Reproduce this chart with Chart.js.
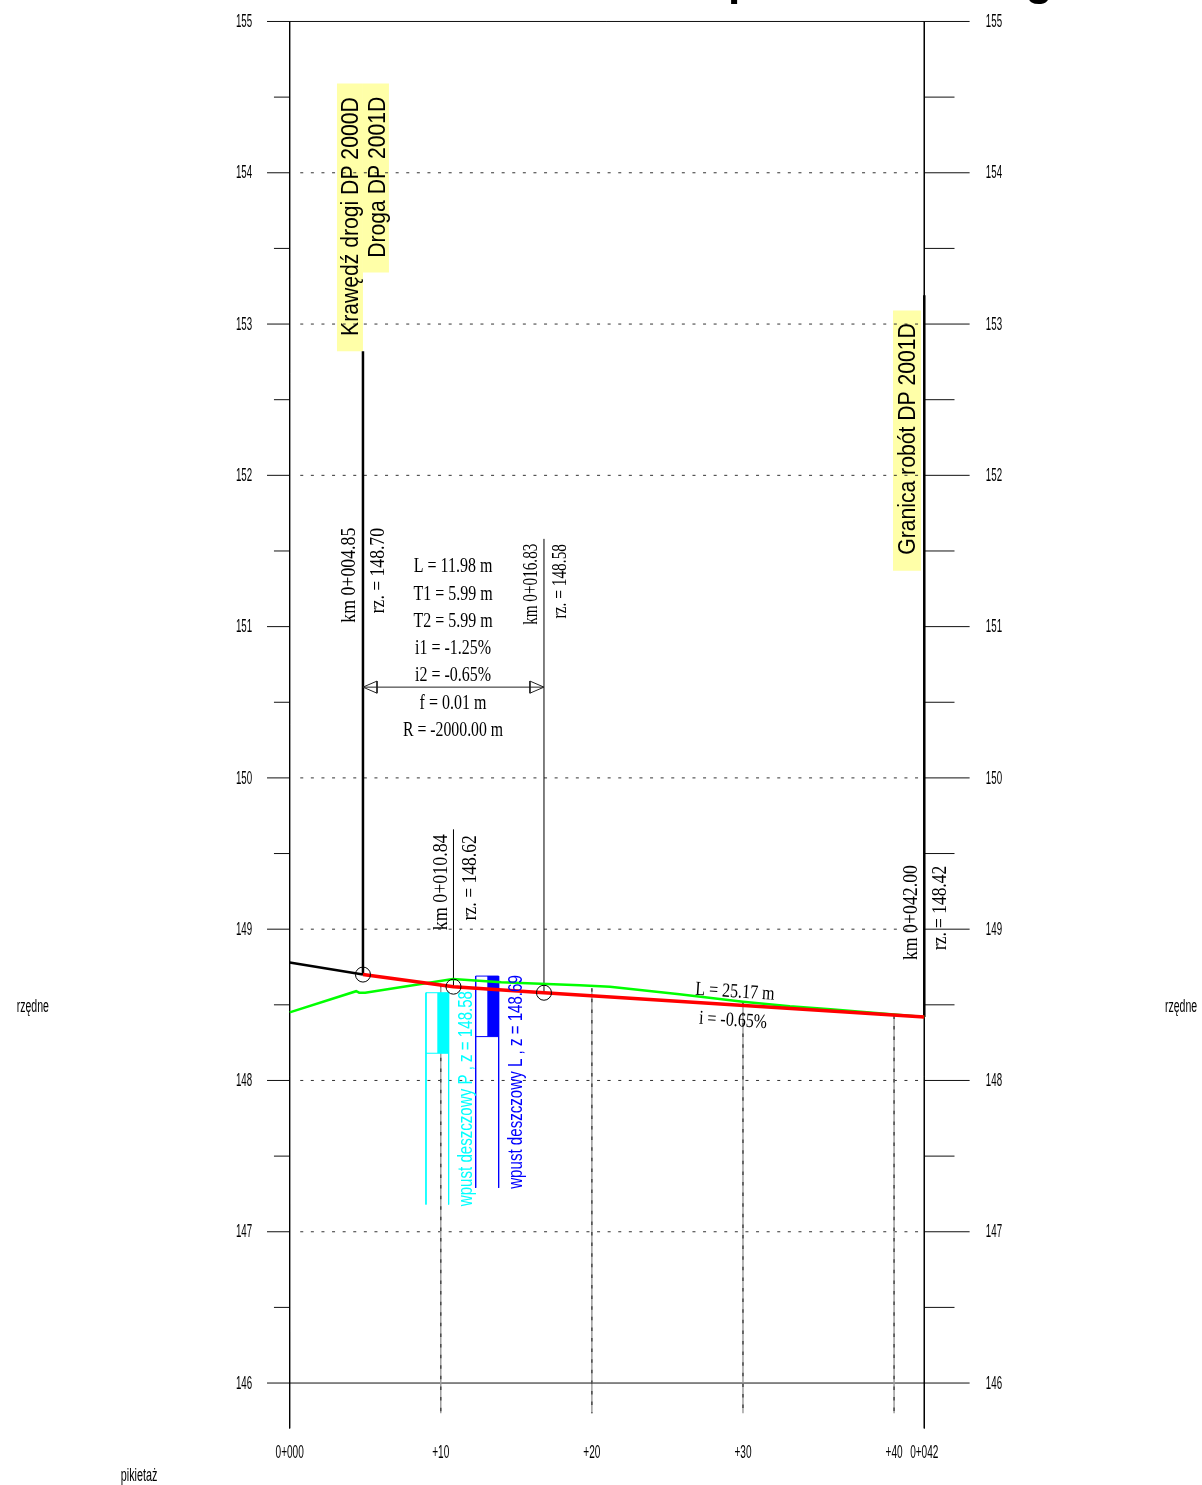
<!DOCTYPE html>
<html>
<head>
<meta charset="utf-8">
<title>Profil</title>
<script src="https://cdn.jsdelivr.net/npm/chart.js@4"></script>
<style>
  html, body { margin: 0; padding: 0; background: #fff; overflow: hidden; }
  canvas { display: block; }
</style>
</head>
<body>
<canvas id="profile" width="1202" height="1485"></canvas>
<script>
// stations in m, elevations in m
const majorLevels = [155, 154, 153, 152, 151, 150, 149, 148, 147, 146]
const minorLevels = [154.5, 153.5, 152.5, 151.5, 150.5, 149.5, 148.5, 147.5, 146.5]
const dottedLevels = [154, 153, 152, 150, 149, 148, 147]
const solidLevels = [155, 146]
const stationTicks = [0, 10, 20, 30, 40, 42]
const stationLabels = ["0+000", "+10", "+20", "+30", "+40", "0+042"]
const stationGround = [148.44, 148.64, 148.61, 148.52, 148.43, 148.42]

const approachX = [0, 4.85]
const approachZ = [148.78, 148.70]
const designX = [4.85, 10.84, 16.83, 42]
const designZ = [148.70, 148.62, 148.58, 148.42]
const terrainX = [0, 4.4, 4.6, 5.0, 10.8, 14, 19.2, 21.2, 25.8, 30, 33.1, 35.8, 42]
const terrainZ = [148.45, 148.59, 148.58, 148.58, 148.67, 148.65, 148.63, 148.62, 148.57, 148.52, 148.49, 148.47, 148.42]

const markerX = [4.85, 10.84, 16.83]
const markerZ = [148.70, 148.62, 148.58]
const leaderX = [4.85, 10.84, 16.83, 42]
const leaderTop = [152.82, 149.66, 151.58, 153.19]
const leaderBottom = [148.70, 148.62, 148.58, 148.42]

const inletRight = { left: 9.02, mid: 9.77, right: 10.52, top: 148.58, box: 148.18, end: 147.18 }
const inletLeft = { left: 12.31, mid: 13.08, right: 13.83, top: 148.69, box: 148.29, end: 147.29 }

const flagBoxes = [
  [3.13, 4.85, 152.82, 154.59],
  [4.85, 6.57, 153.34, 154.59],
  [39.93, 41.78, 151.37, 153.09]
]

const sans = '"Liberation Sans"'
const serif = '"Liberation Serif"'

// text, station, elevation, font, size, horizontal squeeze, angle, colour
const labels = [
  ["Krawędź drogi DP 2000D", 4.12, 153.71, sans, 23.5, 0.9, -90, "#000"],
  ["Droga DP 2001D", 5.91, 153.97, sans, 23.5, 0.9, -90, "#000"],
  ["Granica robót DP 2001D", 40.95, 152.24, sans, 23.5, 0.9, -90, "#000"],
  ["km 0+004.85", 3.99, 151.34, serif, 20, 0.89, -90, "#000"],
  ["rz. = 148.70", 5.91, 151.37, serif, 20, 0.88, -90, "#000"],
  ["km 0+016.83", 16.04, 151.28, serif, 20, 0.76, -90, "#000"],
  ["rz. = 148.58", 17.96, 151.30, serif, 20, 0.77, -90, "#000"],
  ["km 0+010.84", 10.08, 149.31, serif, 20, 0.9, -90, "#000"],
  ["rz. = 148.62", 12.0, 149.34, serif, 20, 0.88, -90, "#000"],
  ["km 0+042.00", 41.18, 149.11, serif, 20, 0.89, -90, "#000"],
  ["rz. = 148.42", 43.1, 149.14, serif, 20, 0.87, -90, "#000"],
  ["L = 11.98 m", 10.81, 151.393, serif, 20, 0.8, 0, "#000"],
  ["T1 = 5.99 m", 10.81, 151.213, serif, 20, 0.8, 0, "#000"],
  ["T2 = 5.99 m", 10.81, 151.033, serif, 20, 0.8, 0, "#000"],
  ["i1 = -1.25%", 10.81, 150.853, serif, 20, 0.8, 0, "#000"],
  ["i2 = -0.65%", 10.81, 150.673, serif, 20, 0.8, 0, "#000"],
  ["f = 0.01 m", 10.81, 150.493, serif, 20, 0.8, 0, "#000"],
  ["R = -2000.00 m", 10.81, 150.313, serif, 20, 0.79, 0, "#000"],
  ["L = 25.17 m", 29.47, 148.585, serif, 20, 0.8, 3.6, "#000"],
  ["i = -0.65%", 29.34, 148.395, serif, 20, 0.8, 3.6, "#000"],
  ["wpust deszczowy P , z = 148.58", 11.67, 147.88, sans, 20, 0.755, -90, "#00ffff"],
  ["wpust deszczowy L , z = 148.69", 14.98, 147.99, sans, 20, 0.755, -90, "#0000ff"],
  ["rzędne", -17.0, 148.485, sans, 18, 0.585, 0, "#000"],
  ["rzędne", 58.99, 148.485, sans, 18, 0.585, 0, "#000"],
  ["pikietaż", -9.97, 145.385, sans, 18, 0.6, 0, "#000"]
]

const zip = (xs, ys) => xs.map((x, i) => ({ x, y: ys[i] }))
const seg = (x1, y1, x2, y2) => [{ x: x1, y: y1 }, { x: x2, y: y2 }]

const datasets = []
const addLine = (data, color, width, dash) => datasets.push({
  data,
  showLine: true,
  borderColor: color,
  borderWidth: width,
  borderDash: dash || [],
  pointRadius: 0,
  fill: false,
  tension: 0
})
const addShape = (x1, x2, y1, y2, color) => datasets.push({
  data: [{ x: x1, y: y1 }, { x: x2, y: y1 }, { x: x2, y: y2 }, { x: x1, y: y2 }, { x: x1, y: y1 }],
  showLine: true,
  borderWidth: 0,
  borderColor: color,
  backgroundColor: color,
  pointRadius: 0,
  fill: "shape"
})

// back to front
flagBoxes.forEach(b => addShape(b[0], b[1], b[2], b[3], "#ffffa8"))

majorLevels.forEach(z => {
  addLine(seg(-1.5, z, 0, z), "#111", 1)
  addLine(seg(42, z, 45, z), "#111", 1)
})
solidLevels.forEach(z => addLine(seg(0, z, 42, z), "#111", 1))
dottedLevels.forEach(z => addLine(seg(0.7, z, 42, z), "#333", 1, [3, 7.6]))
minorLevels.forEach(z => {
  addLine(seg(-1.04, z, 0, z), "#111", 1)
  addLine(seg(42, z, 44, z), "#111", 1)
})
addLine(seg(0, 155, 0, 145.7), "#000", 1)
addLine(seg(42, 155, 42, 145.7), "#000", 1)
stationTicks.slice(1, 5).forEach((s, i) => {
  addLine(seg(s, stationGround[i + 1], s, 145.8), "#999", 1.4)
  addLine(seg(s, stationGround[i + 1], s, 145.8), "#444", 1.4, [3.5, 7.1])
})

const inlet = (p, color) => {
  addShape(p.mid, p.right, p.box, p.top, color)
  addLine(seg(p.left, p.top, p.right, p.top), color, 1)
  addLine(seg(p.left, p.box, p.right, p.box), color, 1)
  addLine(seg(p.left, p.top, p.left, p.end), color, 1)
  addLine(seg(p.right, p.top, p.right, p.end), color, 1)
}
inlet(inletRight, "#00ffff")
inlet(inletLeft, "#0000ff")

leaderX.forEach((s, i) => addLine(seg(s, leaderBottom[i], s, leaderTop[i]), "#000", s === 4.85 || s === 42 ? 2.5 : 1))

// dimension line with open arrow heads
addLine(seg(4.85, 150.6, 16.83, 150.6), "#222", 1)
addLine([{ x: 4.85, y: 150.6 }, { x: 5.78, y: 150.64 }, { x: 5.78, y: 150.56 }, { x: 4.85, y: 150.6 }], "#222", 1)
addLine([{ x: 16.83, y: 150.6 }, { x: 15.9, y: 150.64 }, { x: 15.9, y: 150.56 }, { x: 16.83, y: 150.6 }], "#222", 1)

addLine(zip(terrainX, terrainZ), "#00ff00", 2.5)
addLine(zip(approachX, approachZ), "#000", 2.5)
addLine(zip(designX, designZ), "#ff0000", 3.5)

datasets.push({
  data: zip(markerX, markerZ),
  showLine: false,
  pointRadius: 7.5,
  pointBackgroundColor: "transparent",
  pointBorderColor: "#000",
  pointBorderWidth: 1
})
datasets.forEach((d, i) => { d.order = datasets.length - i })

const textPlugin = {
  id: "profileText",
  afterDatasetsDraw(chart) {
    const { ctx, scales: { x, y } } = chart
    const put = (text, sx, sz, font, size, squeeze, angle, color, weight) => {
      ctx.save()
      ctx.translate(x.getPixelForValue(sx), y.getPixelForValue(sz))
      ctx.rotate(angle * Math.PI / 180)
      ctx.scale(squeeze, 1)
      ctx.font = `${weight || "normal"} ${size}px ${font}`
      ctx.fillStyle = color
      ctx.textAlign = "center"
      ctx.textBaseline = "middle"
      ctx.fillText(text, 0, 0)
      ctx.restore()
    }

    majorLevels.forEach(z => {
      put(String(z), -3.02, z - 0.005, sans, 18, 0.54, 0, "#000")
      put(String(z), 46.61, z - 0.005, sans, 18, 0.54, 0, "#000")
    })
    stationTicks.forEach((s, i) => put(stationLabels[i], s, 145.535, sans, 18, 0.56, 0, "#000"))
    labels.forEach(l => put(...l))

    // the title sits above the page edge, only its descenders show
    put("p", 29.9, 155.253, sans, 44, 1, 0, "#000", "bold")
    put("g", 49.6, 155.253, sans, 44, 1, 0, "#000", "bold")
  }
}

new Chart(document.getElementById("profile"), {
  type: "scatter",
  data: { datasets },
  plugins: [textPlugin],
  options: {
    responsive: false,
    animation: false,
    devicePixelRatio: 1,
    layout: { padding: 0, autoPadding: false },
    plugins: { legend: { display: false }, tooltip: { enabled: false }, title: { display: false } },
    scales: {
      x: { type: "linear", display: false, min: -19.172, max: 60.38 },
      y: { type: "linear", display: false, min: 145.326, max: 155.142 }
    }
  }
})
</script>
</body>
</html>
